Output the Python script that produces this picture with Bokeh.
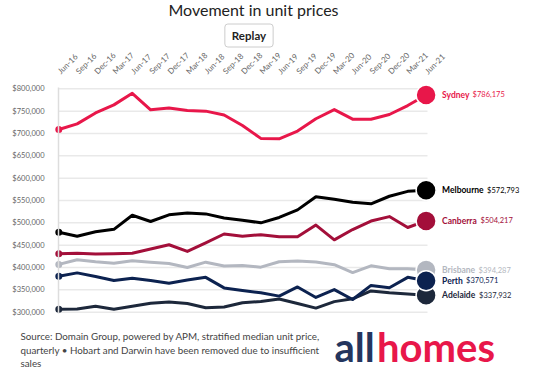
import math
from bokeh.plotting import figure
from bokeh.models import Range1d, FixedTicker, NumeralTickFormatter, Label
from bokeh.embed import file_html
from bokeh.resources import INLINE

# ---------------- data ----------------
quarters = ["Jun-16", "Sep-16", "Dec-16", "Mar-17", "Jun-17", "Sep-17", "Dec-17", "Mar-18",
            "Jun-18", "Sep-18", "Dec-18", "Mar-19", "Jun-19", "Sep-19", "Dec-19", "Mar-20",
            "Jun-20", "Sep-20", "Dec-20", "Mar-21", "Jun-21"]
sydney = [709000, 721500, 746000, 764000, 790000, 753000, 757000, 751500, 750000, 741500, 718000,
          689000, 688000, 705500, 733000, 753500, 732000, 732000, 742500, 762500, 786175]
melbourne = [479000, 470000, 480000, 485500, 517000, 503000, 518000, 522000, 520000, 511000, 506000,
             500000, 512000, 529000, 558500, 553000, 546000, 542500, 559500, 570500, 572793]
canberra = [431000, 432000, 430500, 431000, 432000, 441500, 451000, 436000, 455000, 475000, 470000,
            473500, 469000, 469000, 495000, 462000, 485000, 504000, 514000, 489500, 504217]
brisbane = [407000, 417500, 413000, 409500, 415000, 412000, 409000, 400000, 412000, 403500, 404500,
            400800, 413000, 414500, 412300, 406300, 388700, 403800, 397300, 397500, 394287]
perth = [380400, 388000, 380000, 370800, 376000, 370800, 364800, 372000, 378000, 354400, 348700,
         343500, 336000, 356500, 333000, 350600, 328500, 360000, 354800, 378000, 370571]
adelaide = [306600, 307000, 313400, 306600, 313400, 320000, 323000, 319300, 310000, 311600, 321000,
            324000, 329500, 319300, 309200, 323700, 330000, 347600, 343500, 341000, 337932]
cities = ["Sydney", "Melbourne", "Canberra", "Brisbane", "Adelaide", "Perth"]
series = {"Sydney": sydney, "Melbourne": melbourne, "Canberra": canberra,
          "Brisbane": brisbane, "Adelaide": adelaide, "Perth": perth}
y_ticks = [300000, 350000, 400000, 450000, 500000, 550000, 600000, 650000, 700000, 750000, 800000]

# ---------------- layout / styles ----------------
colors = {"Sydney": "#e8174a", "Melbourne": "#000000", "Canberra": "#a30f3a",
          "Brisbane": "#b3b7c0", "Perth": "#0c2250", "Adelaide": "#1d283b"}
name_width = {"Sydney": 28, "Melbourne": 42.5, "Canberra": 36, "Brisbane": 34, "Perth": 21.5, "Adelaide": 34.5}
FONT = "Lato"
W, H = 550, 379
PX_X0, PX_PER_Q = 58.3, 18.365        # canvas x of first quarter, px per quarter
PY_800, PX_PER_K = 88.3, 0.4468       # canvas y of $800,000, px per $1,000

def dx(sx):
    return (sx - PX_X0) / PX_PER_Q

def dy(sy):
    return 800000 - (sy - PY_800) / PX_PER_K * 1000

p = figure(frame_width=W, frame_height=H, min_border=0, title=None,
           x_range=Range1d(dx(0), dx(W)), y_range=Range1d(dy(H), dy(0)),
           x_axis_location="above", output_backend="svg", toolbar_location=None,
           background_fill_color="white", border_fill_color="white")
p.outline_line_color = None
p.xgrid.visible = False
p.ygrid.visible = False

# horizontal grid lines across the plotted quarters only
p.segment(x0=[dx(58)] * len(y_ticks), x1=[dx(427)] * len(y_ticks), y0=y_ticks, y1=y_ticks,
          line_color="#e9e9e9", line_width=1.5)

xa = p.xaxis[0]
xa.fixed_location = dy(83)
xa.ticker = FixedTicker(ticks=list(range(len(quarters))))
xa.major_label_overrides = {i: q for i, q in enumerate(quarters)}
xa.major_label_orientation = math.pi / 4
xa.axis_line_color = None
xa.major_tick_line_color = None
xa.minor_tick_line_color = None
xa.major_label_standoff = 5
xa.major_label_text_font = FONT
xa.major_label_text_font_size = "8px"
xa.major_label_text_color = "#666666"

ya = p.yaxis[0]
ya.fixed_location = dx(58)
ya.bounds = (296000, 804000)
ya.ticker = FixedTicker(ticks=y_ticks)
ya.formatter = NumeralTickFormatter(format="$0,0")
ya.axis_line_color = "#dddddd"
ya.axis_line_width = 1.5
ya.major_tick_line_color = None
ya.minor_tick_line_color = None
ya.major_label_standoff = 8
ya.major_label_text_font = FONT
ya.major_label_text_font_size = "7.5px"
ya.major_label_text_color = "#666666"

xs = list(range(len(quarters)))
for c in cities:
    vals = series[c]
    p.line(xs, vals, line_color=colors[c], line_width=3, line_join="round", line_cap="round")
    p.scatter([xs[0]], [vals[0]], size=7, fill_color=colors[c], line_color=None)
for c in cities:
    vals = series[c]
    p.scatter([xs[-1]], [vals[-1]], size=20, fill_color=colors[c], line_color="white", line_width=1.5)
    p.add_layout(Label(x=xs[-1], y=vals[-1], x_offset=16, text=c, text_font=FONT,
                       text_font_style="bold", text_font_size="8.5px", text_color=colors[c],
                       text_baseline="middle", text_align="left"))
    p.add_layout(Label(x=xs[-1], y=vals[-1], x_offset=16 + name_width[c] + 2.5,
                       text="${:,}".format(vals[-1]), text_font=FONT, text_font_size="7.5px",
                       text_color=colors[c], text_baseline="middle", text_align="left"))

# title
p.add_layout(Label(x=dx(253), y=dy(9), text="Movement in unit prices", text_font=FONT,
                   text_font_size="16px", text_color="#222222", text_align="center",
                   text_baseline="middle"))
# replay button
p.add_layout(Label(x=dx(248.5), y=dy(35), text="Replay", text_font=FONT, text_font_style="bold",
                   text_font_size="11.5px", text_color="#222222", text_align="center",
                   text_baseline="middle", padding=(7, 5), border_line_color="#cccccc",
                   border_radius=3, background_fill_color="white"))
# footer
footer = ["Source: Domain Group, powered by APM, stratified median unit price,",
          "quarterly \u2022 Hobart and Darwin have been removed due to insufficient",
          "sales"]
for i, t in enumerate(footer):
    p.add_layout(Label(x=dx(20), y=dy(335.7 + 13.3 * i), text=t, text_font=FONT,
                       text_font_size="9.8px", text_color="#444444", text_align="left",
                       text_baseline="middle"))
# logo
p.add_layout(Label(x=dx(334), y=dy(346.3), text="all", text_font=FONT, text_font_style="bold",
                   text_font_size="40px", text_color="#24355e", text_align="left",
                   text_baseline="middle"))
p.add_layout(Label(x=dx(376.5), y=dy(346.3), text="homes", text_font=FONT, text_font_style="bold",
                   text_font_size="40px", text_color="#e8174a", text_align="left",
                   text_baseline="middle"))

open("out.html", "w").write(file_html(p, INLINE))
